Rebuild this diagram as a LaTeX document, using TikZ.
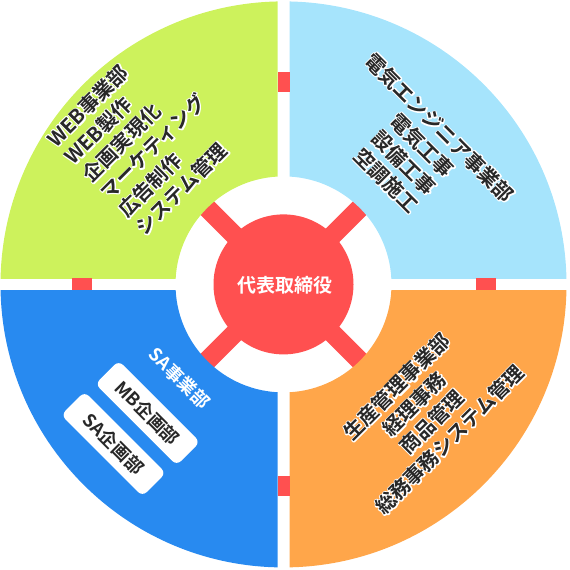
\documentclass[tikz,border=0pt]{standalone}
\usepackage{fontspec}
\newfontfamily\jp{Noto Sans CJK JP}[BoldFont={Noto Sans CJK JP Bold}]
\definecolor{qgreen}{RGB}{205,242,92}
\definecolor{qlblue}{RGB}{166,228,252}
\definecolor{qblue}{RGB}{40,138,240}
\definecolor{qorange}{RGB}{255,166,74}
\definecolor{qred}{RGB}{255,80,80}
\definecolor{txtdark}{RGB}{40,40,40}
\newcommand\hnode[4]{%
  \node[#1,halobg] (#2h) at #3 {#4};
  \node[#1] (#2) at #3 {#4};}
\tikzset{
  jpfont/.style={font={\jp\bfseries\fontsize{#1}{25}\selectfont}},
  qtext/.style={jpfont=20, text=txtdark, inner sep=0pt},
  halobg/.style={text=white,
    execute at begin node={\special{pdf:code 1 Tr 2.4 w 1 j}},
    execute at end node={\special{pdf:code 0 Tr 0.4 w 0 j}}},
  quad/.style={even odd rule},
  redsq/.style={fill=qred},
  unitbox/.style={fill=white, rounded corners=6pt, minimum width=115pt,
    minimum height=33pt, inner sep=0pt, rotate=-45, jpfont=18, text=txtdark},
}
\begin{document}
\begin{tikzpicture}[x=1pt,y=-1pt]
\useasboundingbox (0,0) rectangle (570,570);
\coordinate (C) at (283.5,284.4);
% red diagonal bars
\draw[qred, line width=19pt] (198.5,199.4) -- (368.5,369.4);
\draw[qred, line width=19pt] (368.5,199.4) -- (198.5,369.4);
% quadrants
\begin{scope}
  \clip (C) ++(6,-6) rectangle ++(300,-300);
  \fill[qlblue, quad] (C) circle[radius=283] (C) circle[radius=108];
\end{scope}
\begin{scope}
  \clip (C) ++(-6,-6) rectangle ++(-300,-300);
  \fill[qgreen, quad] (C) circle[radius=283] (C) circle[radius=108];
\end{scope}
\begin{scope}
  \clip (C) ++(-6,6) rectangle ++(-300,300);
  \fill[qblue, quad] (C) circle[radius=283] (C) circle[radius=108];
\end{scope}
\begin{scope}
  \clip (C) ++(6,6) rectangle ++(300,300);
  \fill[qorange, quad] (C) circle[radius=283] (C) circle[radius=108];
\end{scope}
% small red squares in the gaps
\fill[redsq] (C) ++(-6,-212) rectangle ++(12,20);
\fill[redsq] (C) ++(-6,192) rectangle ++(12,20);
\fill[redsq] (C) ++(192,-6) rectangle ++(20,12);
\fill[redsq] (C) ++(-212,-6) rectangle ++(20,12);
% centre
\fill[qred] (C) circle[radius=70];
\node[jpfont=19, text=white, inner sep=0pt] (ceo) at (285,285) {代表取締役};
% quadrant texts
\hnode{qtext, rotate=45, anchor=west, align=left}{web}{(95,187)}{WEB事業部\\WEB製作\\企画実現化\\マーケティング\\広告制作\\システム管理}
\hnode{qtext, rotate=-45, align=center}{elec}{(413,154)}{電気エンジニア事業部\\電気工事\\設備工事\\空調施工}
\hnode{qtext, rotate=45, align=center}{prod}{(423,413)}{生産管理事業部\\経理事務\\商品管理\\総務事務システム管理}
\node[jpfont=18, text=white, inner sep=0pt, rotate=-45] (sa) at (179.5,378.3) {SA事業部};
\node[unitbox] (mb) at (147.7,413) {MB企画部};
\node[unitbox] (sap) at (113.5,444) {SA企画部};
\end{tikzpicture}
\end{document}
